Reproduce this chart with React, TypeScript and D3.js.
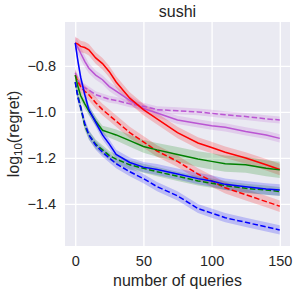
import { useEffect, useRef } from "react";
import * as d3 from "d3";

const queries = [0, 2, 4, 7, 10, 15, 20, 25, 30, 40, 50, 60, 75, 90, 100, 110, 125, 140, 150];

const violetSolid = [-0.7, -0.72, -0.745, -0.78, -0.81, -0.84, -0.86, -0.89, -0.91, -0.95, -0.985, -1.005, -1.035, -1.05, -1.06, -1.067, -1.085, -1.1, -1.115];
const violetSolidCi = [0.03, 0.03, 0.028, 0.025, 0.022, 0.02, 0.02, 0.02, 0.02, 0.02, 0.018, 0.018, 0.018, 0.018, 0.018, 0.018, 0.018, 0.018, 0.018];

const violetDashed = [-0.83, -0.86, -0.885, -0.895, -0.905, -0.925, -0.935, -0.945, -0.95, -0.965, -0.975, -0.99, -0.995, -1.0, -1.006, -1.012, -1.02, -1.03, -1.035];
const violetDashedCi = [0.02, 0.02, 0.02, 0.018, 0.016, 0.015, 0.015, 0.015, 0.015, 0.015, 0.015, 0.015, 0.015, 0.015, 0.015, 0.015, 0.015, 0.015, 0.015];

const redSolid = [-0.7, -0.705, -0.715, -0.72, -0.73, -0.765, -0.79, -0.825, -0.87, -0.94, -0.99, -1.03, -1.09, -1.135, -1.155, -1.175, -1.2, -1.23, -1.25];
const redSolidCi = [0.025, 0.025, 0.025, 0.025, 0.025, 0.025, 0.025, 0.025, 0.025, 0.025, 0.025, 0.025, 0.025, 0.025, 0.025, 0.025, 0.025, 0.025, 0.025];

const redDashed = [-0.84, -0.87, -0.89, -0.91, -0.925, -0.96, -0.99, -1.015, -1.04, -1.09, -1.13, -1.17, -1.215, -1.27, -1.3, -1.33, -1.36, -1.39, -1.41];
const redDashedCi = [0.025, 0.025, 0.025, 0.025, 0.025, 0.025, 0.025, 0.025, 0.025, 0.025, 0.025, 0.025, 0.025, 0.025, 0.025, 0.025, 0.025, 0.025, 0.025];

const greenSolid = [-0.84, -0.89, -0.93, -0.965, -0.995, -1.04, -1.08, -1.09, -1.1, -1.125, -1.15, -1.165, -1.185, -1.205, -1.215, -1.225, -1.23, -1.245, -1.252];
const greenSolidCi = [0.02, 0.02, 0.02, 0.02, 0.02, 0.02, 0.02, 0.022, 0.024, 0.026, 0.028, 0.03, 0.032, 0.034, 0.035, 0.035, 0.035, 0.035, 0.035];

const greenDashed = [-0.87, -0.93, -0.98, -1.06, -1.1, -1.14, -1.165, -1.19, -1.205, -1.23, -1.245, -1.26, -1.28, -1.3, -1.31, -1.32, -1.332, -1.34, -1.346];
const greenDashedCi = [0.02, 0.02, 0.02, 0.02, 0.02, 0.02, 0.02, 0.02, 0.02, 0.02, 0.02, 0.02, 0.02, 0.02, 0.02, 0.02, 0.02, 0.02, 0.02];

const blueSolid = [-0.7, -0.78, -0.85, -0.925, -0.99, -1.045, -1.1, -1.14, -1.185, -1.22, -1.24, -1.25, -1.27, -1.29, -1.3, -1.315, -1.325, -1.335, -1.34];
const blueSolidCi = [0.02, 0.02, 0.02, 0.02, 0.02, 0.02, 0.02, 0.02, 0.02, 0.022, 0.022, 0.024, 0.024, 0.025, 0.025, 0.025, 0.025, 0.025, 0.025];

const blueDashed = [-0.87, -0.94, -0.98, -1.05, -1.1, -1.145, -1.175, -1.2, -1.225, -1.26, -1.29, -1.325, -1.365, -1.42, -1.44, -1.46, -1.48, -1.5, -1.513];
const blueDashedCi = [0.02, 0.02, 0.02, 0.02, 0.02, 0.02, 0.02, 0.02, 0.02, 0.02, 0.02, 0.02, 0.02, 0.02, 0.02, 0.02, 0.02, 0.02, 0.02];

const xTicks = [0, 50, 100, 150];
const yTicks = [-0.8, -1.0, -1.2, -1.4];

type Series = { color: string; dashed: boolean; mean: number[]; ci: number[] };

const series: Series[] = [
  { color: "mediumorchid", dashed: false, mean: violetSolid, ci: violetSolidCi },
  { color: "mediumorchid", dashed: true, mean: violetDashed, ci: violetDashedCi },
  { color: "red", dashed: false, mean: redSolid, ci: redSolidCi },
  { color: "red", dashed: true, mean: redDashed, ci: redDashedCi },
  { color: "green", dashed: false, mean: greenSolid, ci: greenSolidCi },
  { color: "green", dashed: true, mean: greenDashed, ci: greenDashedCi },
  { color: "blue", dashed: false, mean: blueSolid, ci: blueSolidCi },
  { color: "blue", dashed: true, mean: blueDashed, ci: blueDashedCi },
];

const FONT = "'Liberation Sans', Arial, sans-serif";
const TEXT = "#262626";

const Chart = () => {
  const svgRef = useRef<SVGSVGElement | null>(null);

  const svgWidth = 299;
  const svgHeight = 293;

  useEffect(() => {
    if (!svgRef.current) return;

    const margin = { top: 22, right: 9, bottom: 47, left: 65 };
    const innerWidth = svgWidth - margin.left - margin.right;
    const innerHeight = svgHeight - margin.top - margin.bottom;

    const svg = d3.select(svgRef.current);
    svg.selectAll("*").remove();

    const g = svg
      .append("g")
      .attr("transform", `translate(${margin.left},${margin.top})`);

    const xScale = d3.scaleLinear().domain([-7.5, 157.5]).range([0, innerWidth]);
    const yScale = d3.scaleLinear().domain([-1.583, -0.609]).range([innerHeight, 0]);

    g.append("rect")
      .attr("width", innerWidth)
      .attr("height", innerHeight)
      .attr("fill", "#eaeaf2");

    const xAxisG = g
      .append("g")
      .attr("transform", `translate(0,${innerHeight})`)
      .call(
        d3
          .axisBottom(xScale)
          .tickValues(xTicks)
          .tickSize(-innerHeight)
          .tickPadding(9.5)
          .tickFormat(d3.format("d"))
      );

    const yAxisG = g.append("g").call(
      d3
        .axisLeft(yScale)
        .tickValues(yTicks)
        .tickSize(-innerWidth)
        .tickPadding(9)
        .tickFormat(d3.format(".1f"))
    );

    [xAxisG, yAxisG].forEach((ax) => {
      ax.select(".domain").remove();
      ax.selectAll(".tick line").attr("stroke", "#ffffff").attr("stroke-width", 1.3);
      ax.selectAll(".tick text")
        .attr("fill", TEXT)
        .style("font-family", FONT)
        .style("font-size", "14.5px");
    });

    const line = d3
      .line<number>()
      .x((_, i) => xScale(queries[i]))
      .y((d) => yScale(d));

    const plotG = g.append("g");

    // shaded bands first, then the mean lines on top
    series.forEach((s) => {
      const band = d3
        .area<number>()
        .x((_, i) => xScale(queries[i]))
        .y0((d, i) => yScale(d - s.ci[i]))
        .y1((d, i) => yScale(d + s.ci[i]));
      plotG
        .append("path")
        .attr("d", band(s.mean))
        .attr("fill", s.color)
        .attr("fill-opacity", 0.2)
        .attr("stroke", "none");
    });

    series.forEach((s) => {
      plotG
        .append("path")
        .attr("d", line(s.mean))
        .attr("fill", "none")
        .attr("stroke", s.color)
        .attr("stroke-width", 1.5)
        .attr("stroke-dasharray", s.dashed ? "5.5,2.4" : null);
    });

    svg
      .append("text")
      .attr("x", margin.left + innerWidth / 2)
      .attr("y", 17)
      .attr("text-anchor", "middle")
      .attr("fill", TEXT)
      .style("font-family", FONT)
      .style("font-size", "16px")
      .text("sushi");

    svg
      .append("text")
      .attr("x", margin.left + innerWidth / 2)
      .attr("y", 286)
      .attr("text-anchor", "middle")
      .attr("fill", TEXT)
      .style("font-family", FONT)
      .style("font-size", "16px")
      .text("number of queries");

    const yLabel = svg
      .append("text")
      .attr("transform", `translate(18.5,${margin.top + innerHeight / 2}) rotate(-90)`)
      .attr("text-anchor", "middle")
      .attr("fill", TEXT)
      .style("font-family", FONT)
      .style("font-size", "16px");
    yLabel.append("tspan").text("log");
    yLabel.append("tspan").attr("dy", 3.5).style("font-size", "11.5px").text("10");
    yLabel.append("tspan").attr("dy", -3.5).text("(regret)");
  }, []);

  return (
    <svg
      ref={svgRef}
      width={svgWidth}
      height={svgHeight}
      style={{ position: "absolute", left: 0, top: 0, background: "#ffffff" }}
    />
  );
};

export default function App() {
  return <Chart />;
}
